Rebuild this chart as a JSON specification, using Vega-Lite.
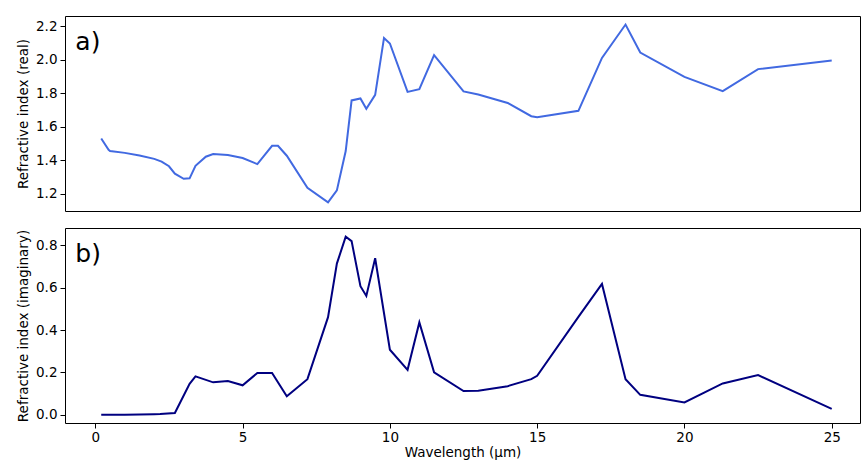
{
  "$schema": "https://vega.github.io/schema/vega-lite/v6.json",
  "padding": {"left": 16, "top": 15, "right": 0, "bottom": 0},
  "background": "white",
  "datasets": {
    "real": [
      {"wl": 0.2, "n": 1.53}, {"wl": 0.45, "n": 1.462}, {"wl": 0.5, "n": 1.455}, {"wl": 1.0, "n": 1.444},
      {"wl": 1.5, "n": 1.428}, {"wl": 2.0, "n": 1.408}, {"wl": 2.25, "n": 1.392}, {"wl": 2.5, "n": 1.364},
      {"wl": 2.7, "n": 1.32}, {"wl": 3.0, "n": 1.289}, {"wl": 3.2, "n": 1.292}, {"wl": 3.4, "n": 1.367},
      {"wl": 3.75, "n": 1.421}, {"wl": 4.0, "n": 1.437}, {"wl": 4.5, "n": 1.431}, {"wl": 5.0, "n": 1.413},
      {"wl": 5.5, "n": 1.377}, {"wl": 6.0, "n": 1.486}, {"wl": 6.2, "n": 1.486}, {"wl": 6.5, "n": 1.427},
      {"wl": 7.2, "n": 1.236}, {"wl": 7.9, "n": 1.149}, {"wl": 8.2, "n": 1.22}, {"wl": 8.5, "n": 1.455},
      {"wl": 8.7, "n": 1.757}, {"wl": 9.0, "n": 1.769}, {"wl": 9.2, "n": 1.707}, {"wl": 9.5, "n": 1.79},
      {"wl": 9.8, "n": 2.13}, {"wl": 10.0, "n": 2.097}, {"wl": 10.6, "n": 1.808}, {"wl": 11.0, "n": 1.824},
      {"wl": 11.5, "n": 2.027}, {"wl": 12.5, "n": 1.811}, {"wl": 13.0, "n": 1.792}, {"wl": 14.0, "n": 1.742},
      {"wl": 14.8, "n": 1.663}, {"wl": 15.0, "n": 1.657}, {"wl": 16.4, "n": 1.695}, {"wl": 17.2, "n": 2.011},
      {"wl": 18.0, "n": 2.21}, {"wl": 18.5, "n": 2.043}, {"wl": 20.0, "n": 1.898}, {"wl": 21.3, "n": 1.812},
      {"wl": 22.5, "n": 1.944}, {"wl": 25.0, "n": 1.995}
    ],
    "imag": [
      {"wl": 0.2, "k": 0.0}, {"wl": 1.0, "k": 0.0}, {"wl": 2.0, "k": 0.002}, {"wl": 2.2, "k": 0.003},
      {"wl": 2.7, "k": 0.008}, {"wl": 3.2, "k": 0.146}, {"wl": 3.4, "k": 0.181}, {"wl": 4.0, "k": 0.153},
      {"wl": 4.5, "k": 0.159}, {"wl": 5.0, "k": 0.139}, {"wl": 5.5, "k": 0.197}, {"wl": 6.0, "k": 0.197},
      {"wl": 6.5, "k": 0.087}, {"wl": 7.2, "k": 0.168}, {"wl": 7.9, "k": 0.461}, {"wl": 8.2, "k": 0.714},
      {"wl": 8.5, "k": 0.841}, {"wl": 8.7, "k": 0.82}, {"wl": 9.0, "k": 0.607}, {"wl": 9.2, "k": 0.561},
      {"wl": 9.5, "k": 0.739}, {"wl": 10.0, "k": 0.307}, {"wl": 10.6, "k": 0.212}, {"wl": 11.0, "k": 0.436},
      {"wl": 11.5, "k": 0.2}, {"wl": 12.5, "k": 0.112}, {"wl": 13.0, "k": 0.113}, {"wl": 14.0, "k": 0.135},
      {"wl": 14.8, "k": 0.168}, {"wl": 15.0, "k": 0.184}, {"wl": 16.4, "k": 0.462}, {"wl": 17.2, "k": 0.618},
      {"wl": 18.0, "k": 0.168}, {"wl": 18.5, "k": 0.094}, {"wl": 20.0, "k": 0.058}, {"wl": 21.3, "k": 0.148},
      {"wl": 22.5, "k": 0.187}, {"wl": 25.0, "k": 0.028}
    ],
    "labelA": [{"wl": -0.68, "n": 2.06, "label": "a)"}],
    "labelB": [{"wl": -0.68, "k": 0.723, "label": "b)"}]
  },
  "spacing": 15,
  "vconcat": [
    {
      "width": 795,
      "height": 195,
      "encoding": {
        "x": {"field": "wl", "type": "quantitative", "scale": {"domain": [-1.03, 25.96], "nice": false, "zero": false}, "axis": null},
        "y": {"field": "n", "type": "quantitative", "scale": {"domain": [1.097, 2.261], "nice": false, "zero": false},
              "axis": {"title": "Refractive index (real)", "values": [1.2, 1.4, 1.6, 1.8, 2.0, 2.2], "format": ".1f"}}
      },
      "layer": [
        {
          "data": {"name": "real"},
          "mark": {"type": "line", "color": "#4169E1", "strokeWidth": 2}
        },
        {
          "data": {"name": "labelA"},
          "mark": {"type": "text", "fontSize": 25, "font": "DejaVu Sans", "align": "left", "baseline": "alphabetic", "color": "black"},
          "encoding": {"text": {"field": "label"}}
        }
      ]
    },
    {
      "width": 795,
      "height": 195,
      "encoding": {
        "x": {"field": "wl", "type": "quantitative", "scale": {"domain": [-1.03, 25.96], "nice": false, "zero": false},
              "axis": {"title": "Wavelength (μm)", "values": [0, 5, 10, 15, 20, 25], "format": "d", "labelPadding": 2, "titlePadding": 2}},
        "y": {"field": "k", "type": "quantitative", "scale": {"domain": [-0.039, 0.882], "nice": false, "zero": false},
              "axis": {"title": "Refractive index (imaginary)", "values": [0, 0.2, 0.4, 0.6, 0.8], "format": ".1f"}}
      },
      "layer": [
        {
          "data": {"name": "imag"},
          "mark": {"type": "line", "color": "#000080", "strokeWidth": 2}
        },
        {
          "data": {"name": "labelB"},
          "mark": {"type": "text", "fontSize": 25, "font": "DejaVu Sans", "align": "left", "baseline": "alphabetic", "color": "black"},
          "encoding": {"text": {"field": "label"}}
        }
      ]
    }
  ],
  "config": {
    "font": "DejaVu Sans",
    "view": {"stroke": "black", "strokeWidth": 1},
    "axis": {
      "grid": false,
      "domain": false,
      "tickColor": "black",
      "tickSize": 5,
      "tickWidth": 1,
      "labelFont": "DejaVu Sans",
      "labelFontSize": 13.5,
      "labelColor": "black",
      "labelPadding": 3,
      "labelOverlap": false,
      "labelFlush": false,
      "titleFont": "DejaVu Sans",
      "titleFontSize": 13.5,
      "titleFontWeight": "normal",
      "titleColor": "black",
      "titlePadding": 5
    }
  }
}
